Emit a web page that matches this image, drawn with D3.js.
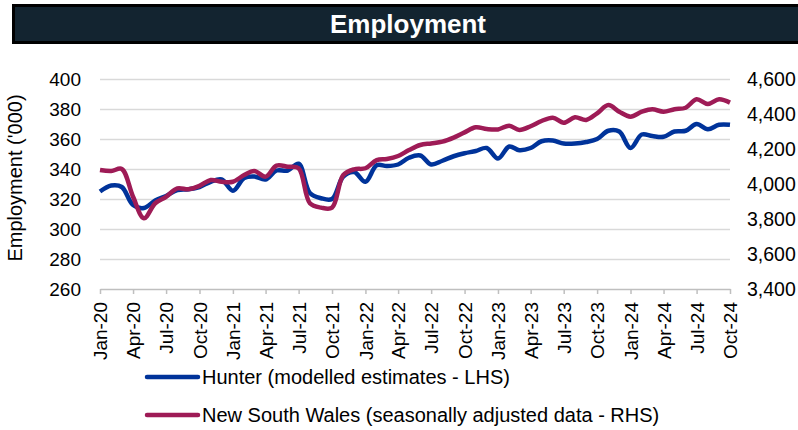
<!DOCTYPE html>
<html>
<head>
<meta charset="utf-8">
<script src="https://cdn.jsdelivr.net/npm/d3@7"></script>
<style>
    body { margin: 0; background: #fff; }
    text { font-family: "Liberation Sans", Arial, sans-serif; fill: #000; }
</style>
</head>
<body>
<div id="main"></div>
<script>
// data (monthly, Jan-20 to Oct-24)
const months = [
    "2020-01","2020-02","2020-03","2020-04","2020-05","2020-06","2020-07","2020-08","2020-09","2020-10","2020-11","2020-12",
    "2021-01","2021-02","2021-03","2021-04","2021-05","2021-06","2021-07","2021-08","2021-09","2021-10","2021-11","2021-12",
    "2022-01","2022-02","2022-03","2022-04","2022-05","2022-06","2022-07","2022-08","2022-09","2022-10","2022-11","2022-12",
    "2023-01","2023-02","2023-03","2023-04","2023-05","2023-06","2023-07","2023-08","2023-09","2023-10","2023-11","2023-12",
    "2024-01","2024-02","2024-03","2024-04","2024-05","2024-06","2024-07","2024-08","2024-09","2024-10"
];
// Hunter, modelled estimates ('000) - LHS
const hunter = [
    325, 329, 328, 316, 314, 319, 322, 326, 326.5, 328, 331.5, 333,
    325.5, 334, 335, 333, 339, 339, 343.5, 324, 320.5, 320, 335, 338,
    331.5, 342.5, 342, 343, 347.5, 349, 343, 345.5, 348.5, 350.5, 352, 354,
    347, 355, 352.5, 354, 358.5, 359, 357, 357, 358, 360, 365.5, 365,
    354, 363, 362, 361.5, 365, 365.5, 370, 366.5, 369.5, 369.5
];
// New South Wales, seasonally adjusted ('000) - RHS
const nsw = [
    4080, 4074, 4086, 3927, 3804, 3890, 3927, 3975, 3970, 3989, 4023, 4013,
    4013, 4051, 4074, 4042, 4105, 4099, 4090, 3890, 3865, 3865, 4051, 4084,
    4090, 4137, 4143, 4160, 4194, 4223, 4232, 4242, 4265, 4295, 4324, 4314,
    4312, 4333, 4309, 4330, 4360, 4379, 4350, 4381, 4366, 4404, 4451, 4413,
    4385, 4413, 4427, 4413, 4427, 4436, 4484, 4457, 4484, 4465
];
const left_ticks = [260, 280, 300, 320, 340, 360, 380, 400];
const right_ticks = [3400, 3600, 3800, 4000, 4200, 4400, 4600];
const series_names = ["Hunter (modelled estimates - LHS)", "New South Wales (seasonally adjusted data - RHS)"];
const series_colors = ["#00339a", "#9e1b56"];

// dimensions
const svg_width = 798,
    svg_height = 430;
const plot = {left: 100, right: 730, top: 79, bottom: 289};

var svg = d3.select("#main").append("svg")
    .attr("width", svg_width)
    .attr("height", svg_height);

// title bar
svg.append("rect")
    .attr("x", 13.5).attr("y", 5.5)
    .attr("width", 800).attr("height", 37)
    .attr("fill", "#132430")
    .attr("stroke", "#000")
    .attr("stroke-width", 3);
svg.append("text")
    .attr("x", 408).attr("y", 24)
    .attr("dy", "0.35em")
    .attr("text-anchor", "middle")
    .style("fill", "#fff")
    .style("font-weight", "bold")
    .style("font-size", "26px")
    .text("Employment");

/** scales **/
var parseMonth = d3.timeParse("%Y-%m");
var dates = months.map(parseMonth);

var xScale = d3.scaleTime()
    .domain(d3.extent(dates))
    .range([plot.left, plot.right]);
var yLeft = d3.scaleLinear()
    .domain([260, 400])
    .range([plot.bottom, plot.top]);
var yRight = d3.scaleLinear()
    .domain([3400, 4600])
    .range([plot.bottom, plot.top]);

// gridlines
svg.append("g")
    .attr("class", "grid")
    .attr("transform", `translate(${plot.left},0)`)
    .call(d3.axisLeft(yLeft).tickValues(left_ticks.slice(1)).tickSize(-(plot.right - plot.left)).tickFormat(""))
    .call(function(g) { g.select(".domain").remove(); })
    .selectAll("line")
    .attr("stroke", "#d9d9d9")
    .attr("stroke-width", 1.5);

// left axis labels
svg.append("g")
    .attr("id", "y-axis-left")
    .attr("transform", `translate(${plot.left},0)`)
    .call(d3.axisLeft(yLeft).tickValues(left_ticks).tickSize(0).tickPadding(19))
    .call(function(g) { g.select(".domain").remove(); })
    .selectAll("text")
    .style("font-size", "19px")
    .attr("font-family", null);

// right axis labels
svg.append("g")
    .attr("id", "y-axis-right")
    .attr("transform", `translate(${plot.right},0)`)
    .call(d3.axisRight(yRight).tickValues(right_ticks).tickSize(0).tickPadding(17).tickFormat(d3.format(",")))
    .call(function(g) { g.select(".domain").remove(); })
    .selectAll("text")
    .style("font-size", "19.5px")
    .attr("font-family", null);

// axis title
svg.append("text")
    .attr("transform", "translate(15,178) rotate(-90)")
    .attr("dy", "0.35em")
    .attr("text-anchor", "middle")
    .style("font-size", "20px")
    .text("Employment ('000)");

// x-axis
var xAxis = svg.append("g")
    .attr("id", "x-axis")
    .attr("transform", `translate(0,${plot.bottom})`)
    .call(d3.axisBottom(xScale)
        .ticks(d3.timeMonth.every(3))
        .tickSize(5)
        .tickSizeOuter(0)
        .tickFormat(d3.timeFormat("%b-%y")));
xAxis.selectAll(".domain, line")
    .attr("stroke", "#bfbfbf")
    .attr("stroke-width", 1.5);
xAxis.selectAll("text")
    .attr("font-family", null)
    .style("font-size", "19px")
    .attr("text-anchor", "end")
    .attr("transform", "rotate(-90)")
    .attr("x", -13)
    .attr("y", 0)
    .attr("dy", "0.35em");

/** lines **/
var lineLeft = d3.line()
    .x(function(d, i) { return xScale(dates[i]); })
    .y(function(d) { return yLeft(d); })
    .curve(d3.curveCatmullRom);
var lineRight = d3.line()
    .x(function(d, i) { return xScale(dates[i]); })
    .y(function(d) { return yRight(d); })
    .curve(d3.curveCatmullRom);

svg.append("path")
    .datum(hunter)
    .attr("fill", "none")
    .attr("stroke", series_colors[0])
    .attr("stroke-width", 4.5)
    .attr("stroke-linejoin", "round")
    .attr("d", lineLeft);
svg.append("path")
    .datum(nsw)
    .attr("fill", "none")
    .attr("stroke", series_colors[1])
    .attr("stroke-width", 4.5)
    .attr("stroke-linejoin", "round")
    .attr("d", lineRight);

/** legend **/
var legend = svg.selectAll(".legend")
    .data(series_names)
    .enter()
    .append("g")
    .attr("class", "legend")
    .attr("transform", function(d, i) { return `translate(147,${377 + i * 38})`; });
legend.append("line")
    .attr("x1", 0).attr("x2", 51)
    .attr("stroke", function(d, i) { return series_colors[i]; })
    .attr("stroke-width", 4.5)
    .attr("stroke-linecap", "round");
legend.append("text")
    .attr("x", 55)
    .attr("dy", "0.35em")
    .style("font-size", "20px")
    .text(function(d) { return d; });
</script>
</body>
</html>
